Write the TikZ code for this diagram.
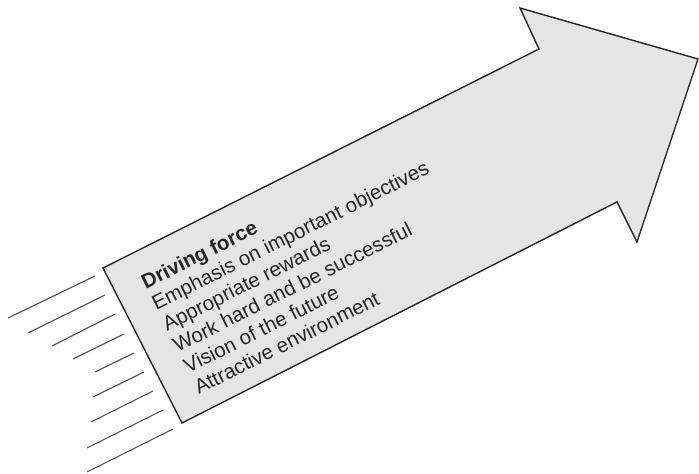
\documentclass[tikz,border=0pt]{standalone}
\usepackage{fontspec}
\setmainfont{Liberation Sans}
\begin{document}
\begin{tikzpicture}[x=1pt,y=-1pt,
  bigarrow/.style={draw=black!85, line width=1.4pt, fill=black!10, line join=miter},
  speedline/.style={draw=black!70, line width=1.1pt},
  arrowtext/.style={rotate=26.6, anchor=north west, inner sep=0pt, align=left,
    font=\fontsize{20.5}{23.6}\selectfont, text=black!85}]
\useasboundingbox (0,0) rectangle (699,474);

% the broad arrow
\coordinate (tailtop) at (103,268);
\coordinate (notchtop) at (539,49);
\coordinate (backtop) at (520,8);
\coordinate (tip) at (698,59);
\coordinate (backbot) at (637,242);
\coordinate (notchbot) at (617,202);
\coordinate (tailbot) at (182,423);
\draw[bigarrow] (tailtop) -- (notchtop) -- (backtop) -- (tip) -- (backbot)
  -- (notchbot) -- (tailbot) -- cycle;

% text carried on the shaft
\node[arrowtext] (forces) at (139,276)
  {\textbf{Driving force}\\
   Emphasis on important objectives\\
   Appropriate rewards\\
   Work hard and be successful\\
   Vision of the future\\
   Attractive environment};

% motion streaks behind the tail
\draw[speedline] (8,318) -- (95,276);
\draw[speedline] (28,333) -- (105,295);
\draw[speedline] (52,346) -- (115,314);
\draw[speedline] (73,359) -- (124,334);
\draw[speedline] (95,372) -- (134,353);
\draw[speedline] (93,397) -- (144,372);
\draw[speedline] (91,422) -- (153,391);
\draw[speedline] (87,448) -- (163,410);
\draw[speedline] (87,472) -- (173,429);
\end{tikzpicture}
\end{document}
